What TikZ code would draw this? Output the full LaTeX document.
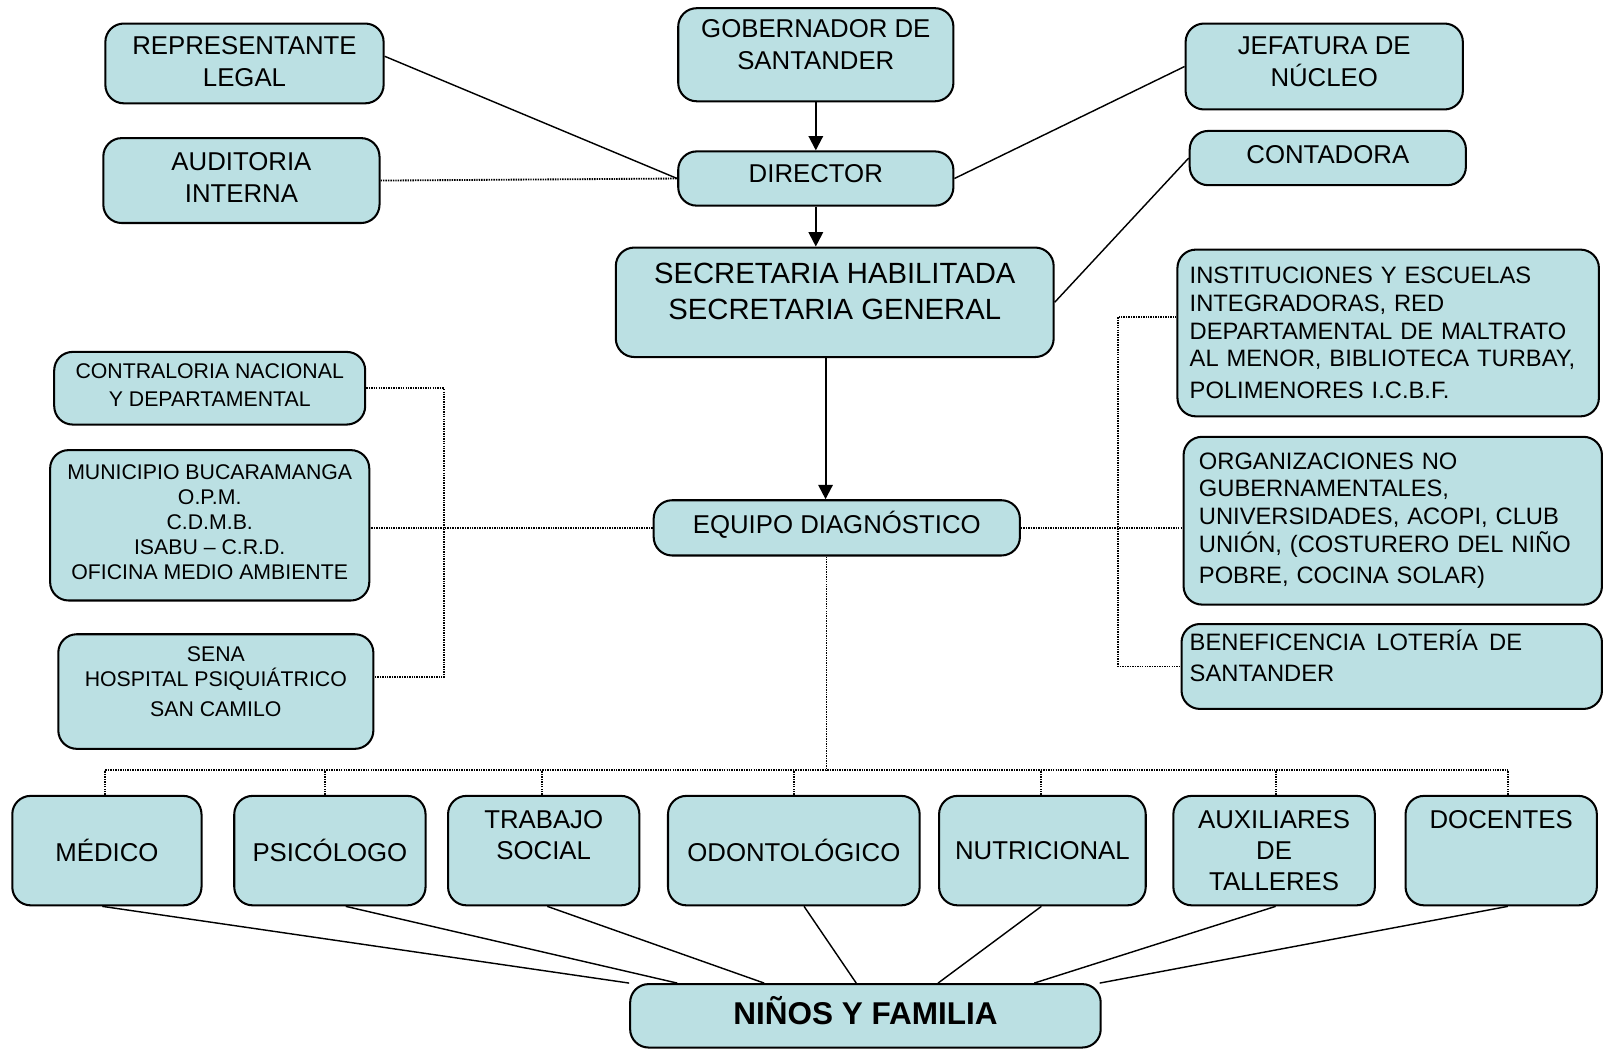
\documentclass[tikz,border=0pt]{standalone}
\usepackage{fontspec}
\setmainfont{Liberation Sans}
\usetikzlibrary{arrows.meta,calc}
\definecolor{boxfill}{RGB}{187,224,227}
\tikzset{
  box/.style={draw,line width=1pt,rounded corners=9pt,fill=boxfill,align=center,inner sep=0pt,font=\fontsize{12.6}{15.5}\selectfont},
  smalltext/.style={font=\fontsize{10.4}{12.2}\selectfont},
  listbox/.style={align=left,font=\fontsize{11.6}{13.5}\selectfont},
  con/.style={line width=0.7pt},
  dotline/.style={line width=0.9pt,dash pattern=on 0.7pt off 0.5pt},
  arr/.style={line width=1pt,-{Triangle[length=7pt,width=7pt]}},
}
\begin{document}
\begin{tikzpicture}[x=0.5pt,y=-0.5pt]
            \useasboundingbox (0,0) rectangle (1568,1025);
            % top
            \node[box,minimum width=136pt,minimum height=39pt,text depth=2pt](rep) at (239,62) {REPRESENTANTE\\LEGAL};
            \node[box,minimum width=135pt,minimum height=41.5pt,text depth=3pt](aud) at (236,176.5) {AUDITORIA\\INTERNA};
            \node[box,minimum width=134.5pt,minimum height=45.5pt,text depth=10pt](gob) at (797.5,53.5) {GOBERNADOR DE\\SANTANDER};
            \node[box,minimum width=134.5pt,minimum height=26.5pt,text depth=5pt](dir) at (797.5,174.5) {DIRECTOR};
            \node[box,minimum width=135.5pt,minimum height=42pt,text depth=5pt](jef) at (1294.5,65) {JEFATURA DE\\NÚCLEO};
            \node[box,minimum width=135pt,minimum height=26.5pt,text depth=3pt](cont) at (1298,154.5) {CONTADORA};
            \node[box,minimum width=214pt,minimum height=53.5pt,text depth=11pt,font=\fontsize{14.3}{17.5}\selectfont](sec) at (816,295.5) {SECRETARIA HABILITADA\\SECRETARIA GENERAL};
            % left
            \node[box,smalltext,minimum width=152pt,minimum height=35.5pt,text depth=3pt,font=\fontsize{10.4}{13.5}\selectfont](contr) at (205,379.5) {CONTRALORIA NACIONAL\\Y DEPARTAMENTAL};
            \node[box,smalltext,minimum width=156pt,minimum height=73.5pt,text depth=3pt](mun) at (205,513.5) {MUNICIPIO BUCARAMANGA\\O.P.M.\\C.D.M.B.\\ISABU – C.R.D.\\OFICINA MEDIO AMBIENTE};
            \node[box,smalltext,minimum width=154pt,minimum height=56pt,text depth=10pt](sena) at (211,676) {SENA\\HOSPITAL PSIQUIÁTRICO\\[2.5pt]SAN CAMILO};
            \node[box,minimum width=179pt,minimum height=27pt,text depth=5pt](equipo) at (818,516) {EQUIPO DIAGNÓSTICO};
            % right
            \node[box,listbox,inner xsep=6pt,text width=194pt,minimum height=81.5pt](inst) at (1357,325.5) {INSTITUCIONES Y ESCUELAS\\INTEGRADORAS, RED\\DEPARTAMENTAL DE MALTRATO\\AL MENOR, BIBLIOTECA TURBAY,\\[2pt]POLIMENORES I.C.B.F.};
            \node[box,listbox,inner xsep=7.5pt,text width=189.5pt,minimum height=82pt](org) at (1361.5,509) {ORGANIZACIONES NO\\GUBERNAMENTALES,\\UNIVERSIDADES, ACOPI, CLUB\\UNIÓN, (COSTURERO DEL NIÑO\\[2pt]POBRE, COCINA SOLAR)};
            \node[box,listbox,inner xsep=4pt,text width=197.5pt,minimum height=41.5pt,text depth=26pt,font=\fontsize{11.6}{15.5}\selectfont](ben) at (1360.5,651.5) {BENEFICENCIA\hspace{5.5pt}LOTERÍA\hspace{5.5pt}DE\\SANTANDER};
            % bottom row
            \node[box,minimum width=92.5pt,minimum height=53.5pt](med) at (104.5,831.5) {MÉDICO};
            \node[box,minimum width=93.5pt,minimum height=53.5pt](psi) at (322.5,831.5) {PSICÓLOGO};
            \node[box,minimum width=93.5pt,minimum height=53.5pt,font=\fontsize{12.6}{15}\selectfont](trab) at (531.5,831.5) {TRABAJO\\SOCIAL\\\mbox{}};
            \node[box,minimum width=123pt,minimum height=53.5pt](odo) at (776,831.5) {ODONTOLÓGICO};
            \node[box,minimum width=101pt,minimum height=53.5pt](nut) at (1019,831.5) {NUTRICIONAL};
            \node[box,minimum width=98.5pt,minimum height=53.5pt,font=\fontsize{12.6}{15}\selectfont](aux) at (1245.5,831.5) {AUXILIARES\\DE\\TALLERES};
            \node[box,minimum width=93.5pt,minimum height=53.5pt,font=\fontsize{12.6}{15}\selectfont](doc) at (1467.5,831.5) {DOCENTES\\\mbox{}\\\mbox{}};
            \node[box,minimum width=230pt,minimum height=31pt,text depth=5pt,font=\fontsize{15.4}{18}\selectfont\bfseries](nf) at (846,993) {NIÑOS Y FAMILIA};

            \draw[arr] (gob) -- (dir);
            \draw[arr] (dir.south) -- (dir.south |- sec.north);
            \draw[arr] ([xshift=-4.5pt]sec.south) -- ([xshift=-4.5pt]sec.south |- equipo.north);

            \draw[con] ([yshift=3.5pt]rep.east) -- (dir.west);
            \draw[dotline] (aud.east) -- (dir.west);
            \draw[con] (jef.west) -- (dir.east);
            \draw[con] (cont.west) -- (sec.east);

            % left group
            \coordinate (lbus) at (434,0);
            \coordinate (sj) at ([yshift=7pt]sena.east);
            \draw[dotline] (contr.east) -| (lbus |- sj) -- (sj);
            \draw[dotline] (equipo.west) -- (equipo.west -| mun.east);
            % right group
            \coordinate (rbus) at (1093,0);
            \coordinate (ij) at ([yshift=8pt]inst.west);
            \draw[dotline] (ij) -| (rbus |- ben.west) -- (ben.west);
            \draw[dotline] (equipo.east) -- (equipo.east -| org.west);

            % bus to the team
            \coordinate (bus) at (808,753);
            \draw[dotline] ([xshift=-5pt]equipo.south) -- ([xshift=-5pt]equipo.south |- bus);
            \draw[dotline] ([xshift=-0.75pt]med.north |- bus) -- ([xshift=3.25pt]doc.north |- bus);
            \foreach \n/\d in {med/-0.75,psi/-2.25,trab/-0.75,odo/0,nut/-0.5,aux/0.75,doc/3.25}
              \draw[dotline] ([xshift=\d pt]\n.north) -- ([xshift=\d pt]\n.north |- bus);

            \foreach \n/\s/\t in {med/-2.25/0,psi/7.75/23.5,trab/1.75/66,odo/5/111,nut/-0.5/151,aux/0.75/198,doc/3.25/230}
              \draw[con] ([xshift=\s pt]\n.south) -- ([xshift=\t pt]nf.north west);
\end{tikzpicture}
\end{document}
